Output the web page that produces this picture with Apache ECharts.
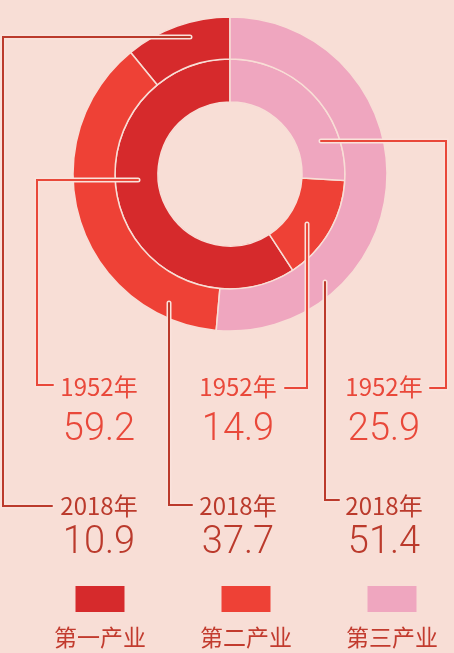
<!DOCTYPE html>
<html>
<head>
<meta charset="utf-8">
<script src="https://cdn.jsdelivr.net/npm/echarts@6/dist/echarts.min.js"></script>
<style>
  html, body { margin: 0; padding: 0; background: #f8ded6; }
  #chart { width: 454px; height: 653px; }
</style>
</head>
<body>
<div id="chart"></div>
<script>
// 数据
var categories = ['第一产业', '第二产业', '第三产业'];
var years = ['1952年', '2018年'];
var values1952 = [59.2, 14.9, 25.9];
var values2018 = [10.9, 37.7, 51.4];

var colors = ['#d62a2c', '#ee4136', '#efa6bf'];
var bg = '#f8ded6';
var c1952 = '#e9483a';
var c2018 = '#bb3a2c';

var myChart = echarts.init(document.getElementById('chart'));

function pieData(vals) {
    return vals.map(function (v, i) {
        return { name: categories[i], value: v, itemStyle: { color: colors[i] } };
    });
}

// 引线 (1952 内环, 2018 外环)
var leaders = [
    { color: c2018, pts: [[190, 37], [3, 37], [3, 506], [52, 506]] },
    { color: c1952, pts: [[138, 180], [37, 180], [37, 385], [53, 385]] },
    { color: c2018, pts: [[169, 303], [169, 505], [192, 505]] },
    { color: c1952, pts: [[307, 224], [307, 388], [285, 388]] },
    { color: c2018, pts: [[325, 282], [325, 500], [339, 500]] },
    { color: c1952, pts: [[321, 141], [446, 141], [446, 388], [430, 388]] }
];

var colX = [99, 238, 384];
var numFont = '300 38px Roboto, "Noto Sans", sans-serif';
var yearFont = '24px "Noto Sans CJK SC", sans-serif';

var graphics = [];
leaders.forEach(function (l) {
    graphics.push({
        type: 'polyline', silent: true, z: 10,
        shape: { points: l.pts },
        style: { stroke: '#fae2db', lineWidth: 5, fill: null, lineCap: 'round', lineJoin: 'miter' }
    });
    graphics.push({
        type: 'polyline', silent: true, z: 11,
        shape: { points: l.pts },
        style: { stroke: l.color, lineWidth: 2, fill: null, lineCap: 'round', lineJoin: 'miter' }
    });
});

categories.forEach(function (name, i) {
    var x = colX[i];
    graphics.push({
        type: 'text', z: 12, silent: true,
        style: { text: years[0], x: x, y: 387, fill: c1952, font: yearFont,
                 align: 'center', verticalAlign: 'middle', textAlign: 'center', textVerticalAlign: 'middle' }
    });
    graphics.push({
        type: 'text', z: 12, silent: true,
        style: { text: values1952[i].toFixed(1), x: x, y: 430, fill: c1952, font: numFont,
                 align: 'center', verticalAlign: 'middle', textAlign: 'center', textVerticalAlign: 'middle' }
    });
    graphics.push({
        type: 'text', z: 12, silent: true,
        style: { text: years[1], x: x, y: 506, fill: c2018, font: yearFont,
                 align: 'center', verticalAlign: 'middle', textAlign: 'center', textVerticalAlign: 'middle' }
    });
    graphics.push({
        type: 'text', z: 12, silent: true,
        style: { text: values2018[i].toFixed(1), x: x, y: 543, fill: c2018, font: numFont,
                 align: 'center', verticalAlign: 'middle', textAlign: 'center', textVerticalAlign: 'middle' }
    });
    // 图例
    var lx = 100 + i * 146;
    graphics.push({
        type: 'rect', z: 12, silent: true,
        shape: { x: lx - 24.5, y: 586, width: 49, height: 26 },
        style: { fill: colors[i] }
    });
    graphics.push({
        type: 'text', z: 12, silent: true,
        style: { text: name, x: lx, y: 637, fill: '#c23b2e', font: '23px "Noto Sans CJK SC", sans-serif',
                 align: 'center', verticalAlign: 'middle', textAlign: 'center', textVerticalAlign: 'middle' }
    });
});

var option = {
    backgroundColor: bg,
    animation: false,
    series: [
        {
            name: years[0],
            type: 'pie',
            center: [230, 174],
            radius: [72, 115],
            startAngle: 90,
            clockwise: false,
            silent: true,
            label: { show: false },
            labelLine: { show: false },
            itemStyle: { borderColor: bg, borderWidth: 1.5 },
            data: pieData(values1952)
        },
        {
            name: years[1],
            type: 'pie',
            center: [230, 174],
            radius: [115, 157],
            startAngle: 90,
            clockwise: false,
            silent: true,
            label: { show: false },
            labelLine: { show: false },
            itemStyle: { borderColor: bg, borderWidth: 1.5 },
            data: pieData(values2018)
        }
    ],
    graphic: graphics
};

myChart.setOption(option);
</script>
</body>
</html>
